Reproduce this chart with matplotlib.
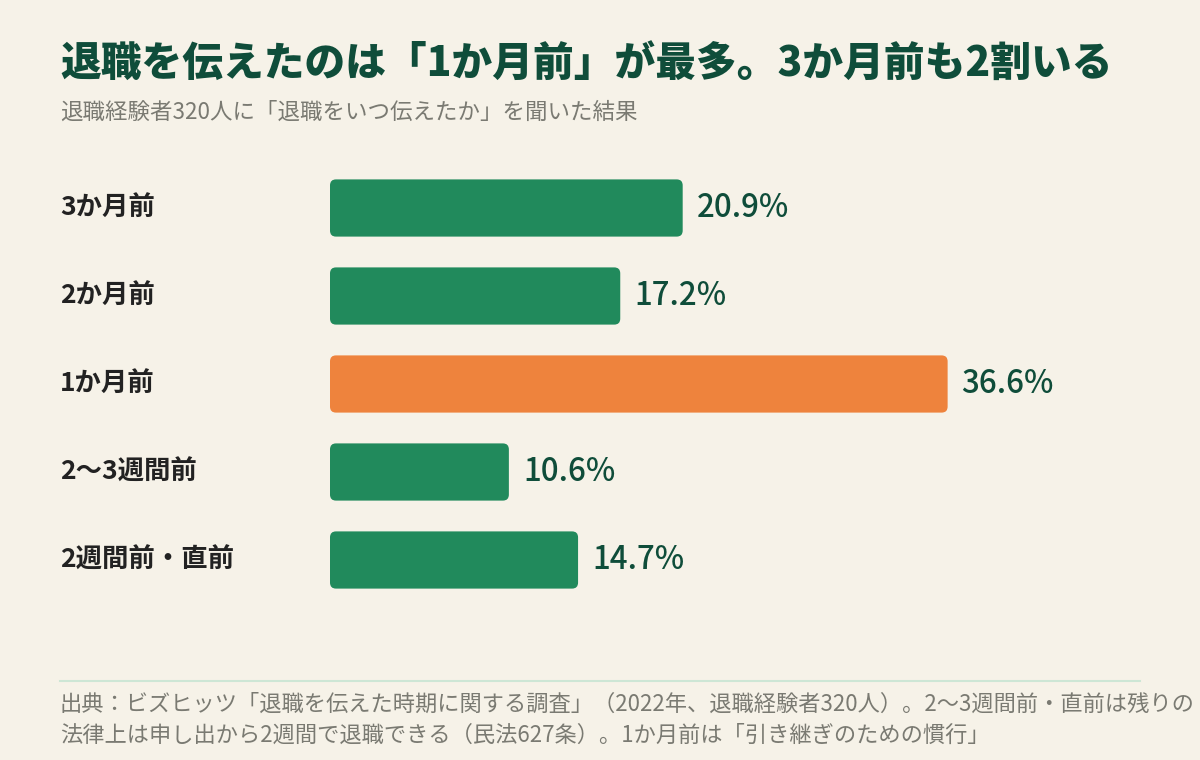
import matplotlib
matplotlib.use("Agg")
import matplotlib.pyplot as plt
from matplotlib.patches import FancyBboxPatch

plt.rcParams['font.family'] = ['Noto Sans CJK JP', 'DejaVu Sans']

categories = ["3か月前", "2か月前", "1か月前", "2〜3週間前", "2週間前・直前"]
values = [20.9, 17.2, 36.6, 10.6, 14.7]
highlight = "1か月前"
value_labels = [f"{v:.1f}%" for v in values]

title = "退職を伝えたのは「1か月前」が最多。3か月前も2割いる"
subtitle = "退職経験者320人に「退職をいつ伝えたか」を聞いた結果"
footer_lines = [
    "出典：ビズヒッツ「退職を伝えた時期に関する調査」（2022年、退職経験者320人）。2〜3週間前・直前は残りの",
    "法律上は申し出から2週間で退職できる（民法627条）。1か月前は「引き継ぎのための慣行」",
]

BG = "#f6f2e8"
GREEN = "#218a5c"
ORANGE = "#ee833d"
DARK = "#0f4d3a"
W, H = 1200, 760

fig = plt.figure(figsize=(W / 100, H / 100), dpi=100, facecolor=BG)

# axes placement in pixels: x 330..1140, y 164..604
ax_l, ax_r, ax_t, ax_b = 330, 1140, 164, 604
ax = fig.add_axes([ax_l / W, 1 - ax_b / H, (ax_r - ax_l) / W, (ax_b - ax_t) / H])
ax.set_facecolor(BG)
xmax = 48.0
ax.set_xlim(0, xmax)
n = len(categories)
ax.set_ylim(n - 0.5, -0.5)
ax.axis("off")

px_per_x = (ax_r - ax_l) / xmax
px_per_y = (ax_b - ax_t) / n
bar_h = 0.65
radius_px = 6
rx = radius_px / px_per_x
aspect = px_per_x / px_per_y

for i, (cat, v, lab) in enumerate(zip(categories, values, value_labels)):
    color = ORANGE if cat == highlight else GREEN
    patch = FancyBboxPatch((0, i - bar_h / 2), v, bar_h,
                           boxstyle=f"round,pad=0,rounding_size={rx}",
                           mutation_aspect=aspect,
                           facecolor=color, edgecolor="none")
    ax.add_patch(patch)
    ax.text(v + 14 / px_per_x, i, lab, va="center", ha="left",
            fontsize=22.5, color=DARK, fontweight="medium")
    fig.text(60 / W, 1 - (ax_t + (i + 0.5) * px_per_y) / H, cat,
             va="center", ha="left", fontsize=19, fontweight="bold", color="#222222")

fig.text(60 / W, 1 - 65 / H, title, fontsize=29.3, fontweight="heavy",
         color=DARK, va="center", ha="left")
fig.text(60 / W, 1 - 112 / H, subtitle, fontsize=16.2, color="#7a7a72",
         va="center", ha="left")

fig.add_artist(plt.Line2D([60 / W, 1140 / W], [1 - 681 / H, 1 - 681 / H],
                          color="#cde6d5", linewidth=1.5))
for k, line in enumerate(footer_lines):
    fig.text(60 / W, 1 - (704 + 31 * k) / H, line, fontsize=16,
             color="#7a7a72", va="center", ha="left")

fig.savefig("out.png", dpi=100, facecolor=BG)
